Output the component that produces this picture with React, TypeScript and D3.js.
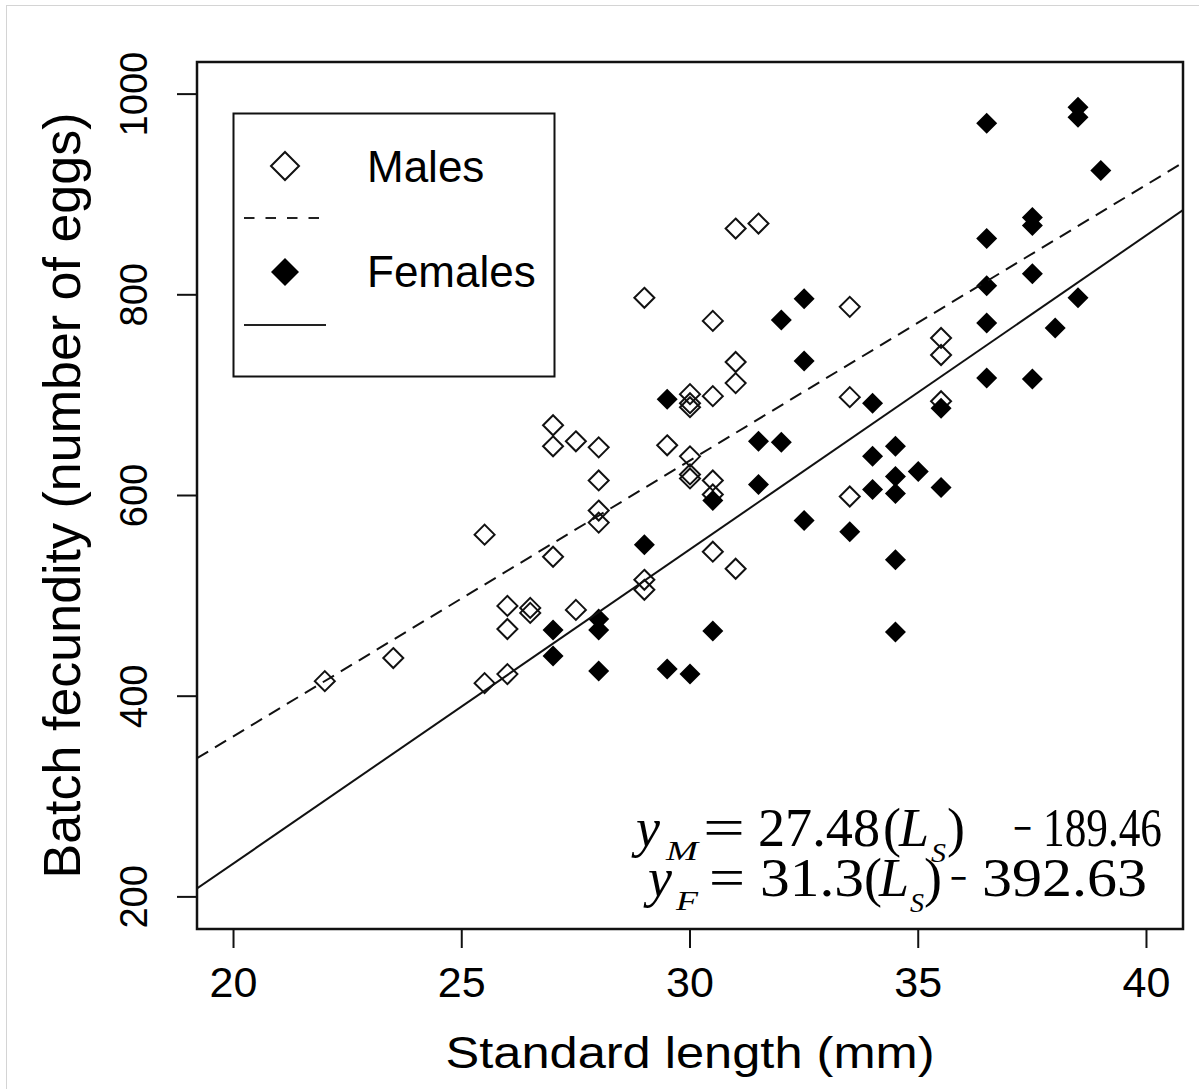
import React from "react";
import * as d3 from "d3";

// ---- data ----
const maleLength = [22, 23.5, 25.5, 25.5, 26, 26, 26, 26.5, 26.5, 27, 27, 27, 27.5, 27.5, 28, 28, 28, 28, 29, 29, 29, 29.5, 30, 30, 30, 30, 30, 30, 30.5, 30.5, 30.5, 30.5, 30.5, 31, 31, 31, 31, 31.5, 33.5, 33.5, 33.5, 35.5, 35.5, 35.5];
const maleFecundity = [415, 438, 561, 413, 490, 467, 422, 488, 483, 670, 649, 539, 654, 486, 648, 615, 585, 573, 797, 516, 506, 650, 701, 692, 688, 639, 621, 617, 774, 699, 615, 601, 544, 866, 733, 712, 527, 871, 788, 698, 599, 757, 740, 694];

const femaleLength = [27, 27, 28, 28, 28, 29, 29.5, 29.5, 30, 30.5, 30.5, 31.5, 31.5, 32, 32, 32.5, 32.5, 32.5, 33.5, 34, 34, 34, 34.5, 34.5, 34.5, 34.5, 34.5, 35, 35.5, 35.5, 36.5, 36.5, 36.5, 36.5, 36.5, 37.5, 37.5, 37.5, 37.5, 38, 38.5, 38.5, 38.5, 39];
const femaleFecundity = [466, 440, 477, 466, 425, 551, 696, 427, 422, 595, 465, 654, 611, 775, 653, 796, 734, 575, 564, 692, 639, 606, 649, 619, 602, 536, 464, 624, 687, 608, 971, 856, 809, 772, 717, 877, 869, 821, 716, 767, 987, 977, 797, 924];

const maleFit = [27.48, -189.46]; // slope, intercept
const femaleFit = [31.3, -392.63];

const xTicks = [20, 25, 30, 35, 40];
const yTicks = [200, 400, 600, 800, 1000];

const xLabel = "Standard length (mm)";
const yLabel = "Batch fecundity (number of eggs)";
const legendLabels = ["Males", "Females"];

const W = 1199;
const H = 1089;
const L = 197, R = 1183, T = 62, B = 929;

const x = d3.scaleLinear().domain([19.2, 40.8]).range([L, R]);
const y = d3.scaleLinear().domain([168, 1032]).range([B, T]);

const diamond = (cx: number, cy: number, r: number) =>
  `M${cx},${cy - r}L${cx + r},${cy}L${cx},${cy + r}L${cx - r},${cy}Z`;

const fitLine = (fit: number[]) => {
  const [a, b] = x.domain();
  const line = d3.line<number>().x((d) => x(d)).y((d) => y(fit[0] * d + fit[1]));
  return line([a, b]) || "";
};

const sans = "'Liberation Sans', Arial, Helvetica, sans-serif";
const serif = "'Liberation Serif', 'Times New Roman', serif";

type Seg = { t: string; x: number; len?: number; it?: boolean; sub?: number };

// equation pieces: text, left x, width, italic, subscript drop
const eqM: Seg[] = [
  { t: "y", x: 636, it: true },
  { t: "M", x: 666, len: 32, it: true, sub: 14 },
  { t: "=", x: 703, len: 42 },
  { t: "27.48", x: 758, len: 122 },
  { t: "(", x: 883 },
  { t: "L", x: 899, it: true },
  { t: "S", x: 931, len: 15, it: true, sub: 16 },
  { t: ")", x: 947 },
  { t: "\u2212", x: 1013, len: 19 },
  { t: "189.46", x: 1043, len: 119 },
];
const eqF: Seg[] = [
  { t: "y", x: 648, it: true },
  { t: "F", x: 676, len: 22, it: true, sub: 14 },
  { t: "=", x: 709, len: 36 },
  { t: "31.3", x: 760, len: 104 },
  { t: "(", x: 864 },
  { t: "L", x: 879, it: true },
  { t: "S", x: 910, len: 14, it: true, sub: 16 },
  { t: ")", x: 924 },
  { t: "\u2212", x: 950, len: 17 },
  { t: "392.63", x: 982, len: 165 },
];

const Eq = ({ segs, base }: { segs: Seg[]; base: number }) => (
  <g fontFamily={serif} fill="#000">
    {segs.map((s, i) => (
      <text
        key={i}
        x={s.x}
        y={base + (s.sub || 0)}
        fontSize={s.sub ? 28 : 54}
        fontStyle={s.it ? "italic" : "normal"}
        textLength={s.len}
        lengthAdjust={s.len ? "spacingAndGlyphs" : undefined}
      >
        {s.t}
      </text>
    ))}
  </g>
);

export default function App() {
  return (
    <svg
      width={W}
      height={H}
      style={{ position: "absolute", left: 0, top: 0, background: "#fff" }}
    >
      <rect x={0} y={0} width={W} height={H} fill="#fff" />
      <rect x={6.5} y={5.5} width={W + 10} height={H + 10} fill="none" stroke="#d4d4d4" strokeWidth={1} />

      <defs>
        <clipPath id="plotclip">
          <rect x={L} y={T} width={R - L} height={B - T} />
        </clipPath>
      </defs>

      {/* points */}
      <g>
        {maleLength.map((d, i) => (
          <path key={"m" + i} d={diamond(x(d), y(maleFecundity[i]), 10)} fill="none" stroke="#111" strokeWidth={2} />
        ))}
        {femaleLength.map((d, i) => (
          <path key={"f" + i} d={diamond(x(d), y(femaleFecundity[i]), 10.5)} fill="#000" stroke="none" />
        ))}
      </g>

      {/* regression lines */}
      <g clipPath="url(#plotclip)">
        <path d={fitLine(maleFit)} fill="none" stroke="#111" strokeWidth={2} strokeDasharray="13 8" />
        <path d={fitLine(femaleFit)} fill="none" stroke="#111" strokeWidth={2} />
      </g>

      {/* frame */}
      <rect x={L} y={T} width={R - L} height={B - T} fill="none" stroke="#111" strokeWidth={2.5} />

      {/* x axis */}
      {xTicks.map((t) => (
        <g key={"xt" + t}>
          <line x1={x(t)} x2={x(t)} y1={B} y2={B + 19} stroke="#111" strokeWidth={2} />
          <text x={x(t)} y={997} textAnchor="middle" fontFamily={sans} fontSize={43} fill="#000">
            {t}
          </text>
        </g>
      ))}
      {/* y axis */}
      {yTicks.map((t) => (
        <g key={"yt" + t}>
          <line x1={L - 20} x2={L} y1={y(t)} y2={y(t)} stroke="#111" strokeWidth={2} />
          <text
            transform={`translate(147,${y(t)}) rotate(-90)`}
            textAnchor="middle"
            fontFamily={sans}
            fontSize={38}
            fill="#000"
          >
            {t}
          </text>
        </g>
      ))}

      <text x={(L + R) / 2} y={1068} textAnchor="middle" fontFamily={sans} fontSize={44} textLength={489} lengthAdjust="spacingAndGlyphs" fill="#000">
        {xLabel}
      </text>
      <text
        transform={`translate(80,${(T + B) / 2}) rotate(-90)`}
        textAnchor="middle"
        fontFamily={sans}
        fontSize={52}
        fill="#000"
      >
        {yLabel}
      </text>

      {/* legend */}
      <rect x={233.5} y={113.5} width={321} height={263} fill="#fff" stroke="#111" strokeWidth={2} />
      <path d={diamond(285, 166, 14)} fill="none" stroke="#111" strokeWidth={2} />
      <text x={367} y={182} fontFamily={sans} fontSize={44} fill="#000">{legendLabels[0]}</text>
      <line x1={244} x2={320} y1={218} y2={218} stroke="#222" strokeWidth={2} strokeDasharray="10.5 11" />
      <path d={diamond(285, 272, 14)} fill="#000" />
      <text x={367} y={287} fontFamily={sans} fontSize={44} fill="#000">{legendLabels[1]}</text>
      <line x1={244} x2={326} y1={325} y2={325} stroke="#222" strokeWidth={2} />

      {/* equations */}
      <Eq segs={eqM} base={846} />
      <Eq segs={eqF} base={896} />
    </svg>
  );
}
